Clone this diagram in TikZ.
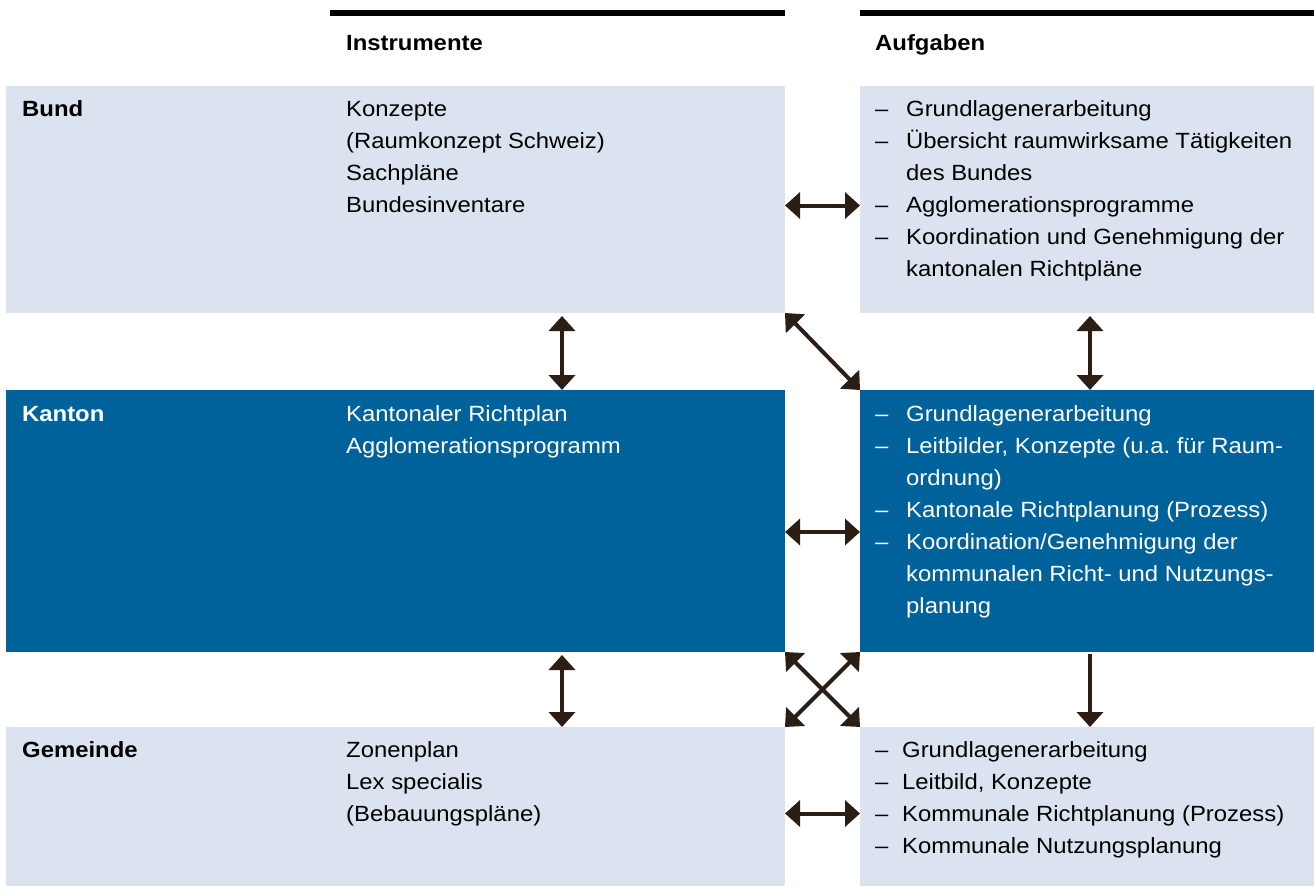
\documentclass[tikz,border=0pt]{standalone}
\usepackage{fontspec}
\setmainfont{Liberation Sans}[FakeStretch=1.085]
\usetikzlibrary{arrows.meta, positioning, calc}
\definecolor{boxlight}{HTML}{DAE3EF}
\definecolor{boxdark}{HTML}{00629A}
\definecolor{arrowbrown}{HTML}{2B1F15}
\newcommand{\tsk}[1][31pt]{\makebox[#1][l]{\textendash}} % dash of a task item
\newcommand{\tskc}[1][31pt]{\hspace*{#1}} % continued task line
\frenchspacing
\tikzset{
  x=1pt, y=-1pt, % one unit per pixel, y downwards
  panel/.style={inner sep=0pt, outer sep=0pt, anchor=north west}, % the coloured boxes
  light/.style={panel, fill=boxlight},
  dark/.style={panel, fill=boxdark},
  txt/.style={inner sep=0pt, anchor=base west, align=left,
    font=\fontsize{22}{32}\selectfont}, % all texts, placed at the last baseline
  head/.style={txt, font=\fontsize{22}{32}\selectfont\bfseries},
  link/.style={draw=arrowbrown, line width=4pt, {Triangle[width=26pt,length=15pt]}-{Triangle[width=26pt,length=15pt]}}, % two-way arrows
  down/.style={draw=arrowbrown, line width=4pt, -{Triangle[width=26pt,length=15pt]}},
  bar/.style={line width=6pt},
}
\begin{document}
\begin{tikzpicture}
  \useasboundingbox (0,0) rectangle (1314,886);

  % column heads
  \draw[bar] (330,13) -- (785,13);
  \draw[bar] (860,13) -- (1314,13);
  \node[head] (hInst) at (346,50) {Instrumente};
  \node[head] (hTask) at (875,50) {Aufgaben};

  % panels
  \node[light, minimum width=779pt, minimum height=227pt] (bundInst) at (6,86) {};
  \node[light, minimum width=454pt, minimum height=227pt] (bundTask) at (860,86) {};
  \node[dark, minimum width=779pt, minimum height=262pt] (kantInst) at (6,390) {};
  \node[dark, minimum width=454pt, minimum height=262pt] (kantTask) at (860,390) {};
  \node[light, minimum width=779pt, minimum height=159pt] (gemInst) at (6,727) {};
  \node[light, minimum width=454pt, minimum height=159pt] (gemTask) at (860,727) {};

  % Bund
  \node[head] (bundName) at (22,116) {Bund};
  \node[txt] (bundList) at (346,212) {Konzepte\\(Raumkonzept Schweiz)\\Sachpläne\\Bundesinventare};
  \node[txt] (bundJobs) at (875,276) {\tsk Grundlagenerarbeitung\\
    \tsk Übersicht raumwirksame Tätigkeiten\\
    \tskc des Bundes\\
    \tsk Agglomerationsprogramme\\
    \tsk Koordination und Genehmigung der\\
    \tskc kantonalen Richtpläne};

  % Kanton
  \node[head, text=white] (kantName) at (22,421) {Kanton};
  \node[txt, text=white] (kantList) at (346,453) {Kantonaler Richtplan\\Agglomerationsprogramm};
  \node[txt, text=white] (kantJobs) at (875,613) {\tsk Grundlagenerarbeitung\\
    \tsk Leitbilder, Konzepte (u.a. für Raum-\\
    \tskc ordnung)\\
    \tsk Kantonale Richtplanung (Prozess)\\
    \tsk Koordination/Genehmigung der\\
    \tskc kommunalen Richt- und Nutzungs-\\
    \tskc planung};

  % Gemeinde
  \node[head] (gemName) at (22,757) {Gemeinde};
  \node[txt] (gemList) at (346,821) {Zonenplan\\Lex specialis\\(Bebauungspläne)};
  \node[txt] (gemJobs) at (875,853) {\tsk[27pt]Grundlagenerarbeitung\\
    \tsk[27pt]Leitbild, Konzepte\\
    \tsk[27pt]Kommunale Richtplanung (Prozess)\\
    \tsk[27pt]Kommunale Nutzungsplanung};

  % arrows
  \coordinate (lc) at (562,0);
  \coordinate (rc) at (1090,0);
  \draw[link] ([yshift=-6pt]bundInst.east) -- ([yshift=-6pt]bundTask.west);
  \draw[link] ([yshift=-11pt]kantInst.east) -- ([yshift=-11pt]kantTask.west);
  \draw[link] ([yshift=-7pt]gemInst.east) -- ([yshift=-7pt]gemTask.west);
  \draw[link, shorten <=3pt] (bundInst.south -| lc) -- (kantInst.north -| lc);
  \draw[link, shorten <=3pt] (kantInst.south -| lc) -- (gemInst.north -| lc);
  \draw[link, shorten <=3pt] (bundTask.south -| rc) -- (kantTask.north -| rc);
  \draw[down, shorten <=2pt] (kantTask.south -| rc) -- (gemTask.north -| rc);
  \draw[link] (bundInst.south east) -- (kantTask.north west);
  \draw[link] (kantInst.south east) -- (gemTask.north west);
  \draw[link] (kantTask.south west) -- (gemInst.north east);
\end{tikzpicture}
\end{document}
